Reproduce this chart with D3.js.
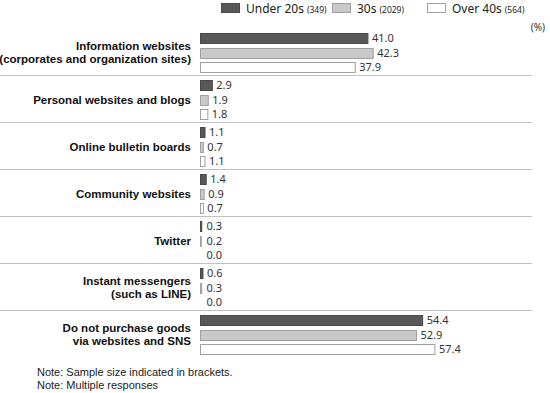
<!DOCTYPE html>
<html>
<head>
<meta charset="utf-8">
<script src="https://cdn.jsdelivr.net/npm/d3@7.9.0/dist/d3.min.js"></script>
<style>
  body { margin: 0; background: #fff; }
  svg { display: block; font-family: "Noto Sans", "Open Sans", sans-serif; }
  .cat { font-family: "Liberation Sans", Arial, sans-serif; font-weight: bold; }
  .note { font-family: "Liberation Sans", Arial, sans-serif; }
</style>
</head>
<body>
<svg id="chart" width="550" height="393"></svg>
<script>
// data
const categories = [
  ["Information websites", "(corporates and organization sites)"],
  ["Personal websites and blogs"],
  ["Online bulletin boards"],
  ["Community websites"],
  ["Twitter"],
  ["Instant messengers", "(such as LINE)"],
  ["Do not purchase goods", "via websites and SNS"]
];
const seriesNames = ["Under 20s", "30s", "Over 40s"];
const sampleSizes = ["(349)", "(2029)", "(564)"];
const under20s = [41.0, 2.9, 1.1, 1.4, 0.3, 0.6, 54.4];
const thirties = [42.3, 1.9, 0.7, 0.9, 0.2, 0.3, 52.9];
const over40s = [37.9, 1.8, 1.1, 0.7, 0.0, 0.0, 57.4];
const notes = ["Note: Sample size indicated in brackets.", "Note: Multiple responses"];

const series = [under20s, thirties, over40s];
const fills = ["#595757", "#c9c9c9", "#ffffff"];
const strokes = ["#4a4848", "#a0a0a0", "#a0a0a0"];

const svg = d3.select("#chart");

const x = d3.scaleLinear().domain([0, 60]).range([200.5, 445.5]);
const y = d3.scaleBand().domain(d3.range(categories.length)).range([29, 358]);
const inner = d3.scaleBand().domain(d3.range(3)).range([4, 43]).paddingInner(0.32).paddingOuter(0);

// legend
let lx = [221, 332, 427];
const legend = svg.append("g");
seriesNames.forEach((name, i) => {
  const g = legend.append("g").attr("transform", `translate(${lx[i]},3)`);
  g.append("rect").attr("x", 0.5).attr("y", 0.5).attr("width", 18).attr("height", 9)
    .attr("fill", fills[i]).attr("stroke", strokes[i]);
  const t = g.append("text").attr("x", 25).attr("y", 9.5).attr("font-size", 12).attr("fill", "#222");
  t.append("tspan").text(name);
  t.append("tspan").attr("font-size", 8.5).attr("dx", 3).text(sampleSizes[i]);
});

svg.append("text").attr("x", 545).attr("y", 31).attr("text-anchor", "end")
  .attr("font-size", 10).attr("fill", "#333").text("(%)");

// separators
svg.append("g").selectAll("line")
  .data(d3.range(1, categories.length))
  .join("line")
  .attr("x1", 0).attr("x2", 532)
  .attr("y1", d => Math.round(y(d)) - 0.5)
  .attr("y2", d => Math.round(y(d)) - 0.5)
  .attr("stroke", "#c0c0c0");

const groups = svg.append("g").selectAll("g")
  .data(categories)
  .join("g")
  .attr("transform", (d, i) => `translate(0,${y(i)})`);

// category labels
groups.each(function (lines) {
  const g = d3.select(this);
  const mid = y.bandwidth() / 2;
  const lh = 13;
  lines.forEach((line, j) => {
    g.append("text")
      .attr("class", "cat")
      .attr("x", 191)
      .attr("y", mid + (j - (lines.length - 1) / 2) * lh + 4)
      .attr("text-anchor", "end")
      .attr("font-size", 11.5)
      .attr("fill", "#111")
      .text(line);
  });
});

// bars
series.forEach((vals, s) => {
  groups.append("rect")
    .attr("x", x(0))
    .attr("y", Math.round(inner(s)) + 0.5)
    .attr("width", (d, i) => Math.max(0, x(vals[i]) - x(0)))
    .attr("height", Math.round(inner.bandwidth()))
    .attr("fill", fills[s])
    .attr("stroke", strokes[s]);

  groups.append("text")
    .attr("x", (d, i) => Math.max(x(vals[i]), x(0) + 2) + 4)
    .attr("y", Math.round(inner(s)) + inner.bandwidth() / 2 + 4.5)
    .attr("font-size", 11)
    .attr("fill", "#333")
    .text((d, i) => vals[i].toFixed(1));
});

// notes
notes.forEach((n, i) => {
  svg.append("text").attr("class", "note").attr("x", 37).attr("y", 376 + i * 13)
    .attr("font-size", 11).attr("fill", "#222").text(n);
});
</script>
</body>
</html>
